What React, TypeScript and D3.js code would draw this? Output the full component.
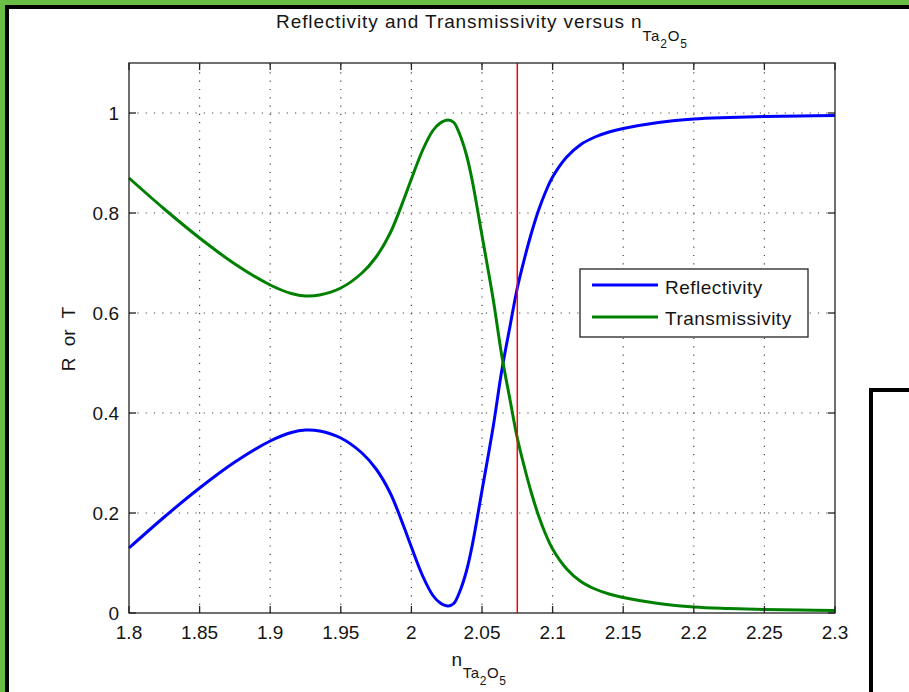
import React from "react";
import * as d3 from "d3";

const nValues = [1.8, 1.825, 1.85, 1.875, 1.9, 1.915, 1.925, 1.935, 1.95, 1.965, 1.975, 1.985, 1.995, 2.0, 2.008, 2.015, 2.02, 2.026, 2.03, 2.034, 2.039, 2.043, 2.05, 2.058, 2.064, 2.07, 2.075, 2.08, 2.085, 2.09, 2.095, 2.1, 2.11, 2.12, 2.13, 2.14, 2.15, 2.175, 2.2, 2.225, 2.25, 2.275, 2.3];
const transmissivity = [0.87, 0.808, 0.75, 0.698, 0.656, 0.639, 0.634, 0.636, 0.65, 0.68, 0.712, 0.76, 0.83, 0.868, 0.926, 0.964, 0.979, 0.986, 0.981, 0.959, 0.916, 0.866, 0.755, 0.626, 0.515, 0.424, 0.35, 0.292, 0.24, 0.195, 0.158, 0.128, 0.088, 0.063, 0.048, 0.038, 0.031, 0.019, 0.012, 0.009, 0.007, 0.006, 0.005];
const reflectivity = [0.13, 0.192, 0.25, 0.302, 0.344, 0.361, 0.366, 0.364, 0.35, 0.32, 0.288, 0.24, 0.17, 0.132, 0.074, 0.036, 0.021, 0.014, 0.019, 0.041, 0.084, 0.134, 0.245, 0.374, 0.485, 0.576, 0.65, 0.708, 0.76, 0.805, 0.842, 0.872, 0.912, 0.937, 0.952, 0.962, 0.969, 0.981, 0.988, 0.991, 0.993, 0.994, 0.995];
const xTicks = [1.8, 1.85, 1.9, 1.95, 2.0, 2.05, 2.1, 2.15, 2.2, 2.25, 2.3];
const xTickLabels = ["1.8", "1.85", "1.9", "1.95", "2", "2.05", "2.1", "2.15", "2.2", "2.25", "2.3"];
const yTicks = [0, 0.2, 0.4, 0.6, 0.8, 1];
const yTickLabels = ["0", "0.2", "0.4", "0.6", "0.8", "1"];
const markerN = 2.075;
const seriesNames = ["Reflectivity", "Transmissivity"];
const seriesColors = ["#0000ff", "#008000"];

const W = 909, H = 692;
const L = 129, R = 835, T = 63, B = 613;
const FONT = "'Liberation Sans', Arial, Helvetica, sans-serif";

export default function App() {
  const x = d3.scaleLinear().domain([1.8, 2.3]).range([L, R]);
  const y = d3.scaleLinear().domain([0, 1.1]).range([B, T]);
  const line = d3
    .line<number>()
    .x((_, i) => x(nValues[i]))
    .y((d) => y(d))
    .curve(d3.curveCatmullRom.alpha(0.5));

  const series = [reflectivity, transmissivity];
  const grid = "#444";
  const ink = "#151515";

  return (
    <svg
      width={W}
      height={H}
      style={{ position: "absolute", left: 0, top: 0, background: "#fff" }}
      fontFamily={FONT}
    >
      <rect x={0} y={0} width={W} height={H} fill="#fff" />
      {/* frame */}
      <rect x={0} y={0} width={W} height={5} fill="#6abd45" />
      <rect x={0} y={0} width={5} height={H} fill="#6abd45" />
      <rect x={5} y={5} width={W - 5} height={4} fill="#000" />
      <rect x={5} y={5} width={4} height={H - 5} fill="#000" />

      {/* grid */}
      <g stroke={grid} strokeWidth={1.2} strokeDasharray="1.2,7.1">
        {xTicks.slice(1, -1).map((t) => (
          <line key={"gx" + t} x1={x(t)} x2={x(t)} y1={B} y2={T} />
        ))}
        {yTicks.slice(1).map((t) => (
          <line key={"gy" + t} x1={L} x2={R} y1={y(t)} y2={y(t)} />
        ))}
      </g>

      {/* curves */}
      {series.map((s, i) => (
        <path
          key={seriesNames[i]}
          d={line(s) || ""}
          fill="none"
          stroke={seriesColors[i]}
          strokeWidth={3}
          strokeLinejoin="round"
        />
      ))}

      {/* red marker */}
      <line x1={x(markerN)} x2={x(markerN)} y1={T} y2={B} stroke="#ff0000" strokeWidth={1.5} />

      {/* axes box */}
      <rect x={L} y={T} width={R - L} height={B - T} fill="none" stroke="#222" strokeWidth={1.3} />
      <g stroke="#222" strokeWidth={1.3}>
        {xTicks.map((t) => (
          <g key={"tx" + t}>
            <line x1={x(t)} x2={x(t)} y1={B} y2={B - 7} />
            <line x1={x(t)} x2={x(t)} y1={T} y2={T + 7} />
          </g>
        ))}
        {yTicks.map((t) => (
          <g key={"ty" + t}>
            <line x1={L} x2={L + 7} y1={y(t)} y2={y(t)} />
            <line x1={R} x2={R - 7} y1={y(t)} y2={y(t)} />
          </g>
        ))}
      </g>

      {/* tick labels */}
      <g fontSize={19} fill={ink}>
        {xTicks.map((t, i) => (
          <text key={"lx" + t} x={x(t)} y={639} textAnchor="middle">
            {xTickLabels[i]}
          </text>
        ))}
        {yTicks.map((t, i) => (
          <text key={"ly" + t} x={119} y={y(t)} dy="0.35em" textAnchor="end">
            {yTickLabels[i]}
          </text>
        ))}
      </g>

      {/* title */}
      <text x={482} y={28} textAnchor="middle" fontSize={19} fill={ink} letterSpacing={0.9}>
        <tspan>Reflectivity and Transmissivity versus n</tspan>
        <tspan fontSize={15} dy={13}>Ta</tspan>
        <tspan fontSize={12} dy={7}>2</tspan>
        <tspan fontSize={15} dy={-7}>O</tspan>
        <tspan fontSize={12} dy={7}>5</tspan>
      </text>

      {/* x label */}
      <text x={479} y={666} textAnchor="middle" fontSize={19} fill={ink} letterSpacing={0.6}>
        <tspan>n</tspan>
        <tspan fontSize={15} dy={12}>Ta</tspan>
        <tspan fontSize={12} dy={7}>2</tspan>
        <tspan fontSize={15} dy={-7}>O</tspan>
        <tspan fontSize={12} dy={7}>5</tspan>
      </text>

      {/* y label */}
      <text
        transform={`translate(75, ${(T + B) / 2 + 1}) rotate(-90)`}
        textAnchor="middle"
        fontSize={19}
        fill={ink}
        wordSpacing={6}
      >
        R or T
      </text>

      {/* legend */}
      <rect x={580} y={269} width={228} height={68} fill="#fff" stroke="#222" strokeWidth={1.3} />
      {seriesNames.map((name, i) => (
        <g key={"lg" + name}>
          <line x1={592} x2={658} y1={285 + i * 32} y2={285 + i * 32} stroke={seriesColors[i]} strokeWidth={3} />
          <text x={665} y={287.5 + i * 31} dy="0.35em" fontSize={19} fill={ink} letterSpacing={0.5}>
            {name}
          </text>
        </g>
      ))}

      {/* right corner frame */}
      <rect x={869} y={388} width={4} height={H - 388} fill="#000" />
      <rect x={869} y={388} width={W - 869} height={4} fill="#000" />
    </svg>
  );
}
